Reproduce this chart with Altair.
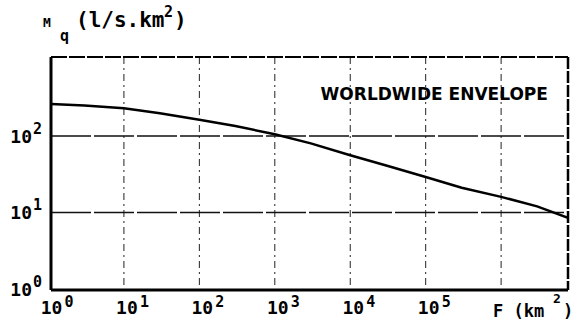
import altair as alt
import pandas as pd

# Envelope curve: catchment area F (km2) vs specific discharge Mq (l/s.km2)
area_km2 = [1, 3, 10, 30, 100, 300, 1000, 3000, 1e4, 3e4, 1e5, 3e5, 1e6, 3e6, 7.7e6]
mq = [263, 249, 230, 198, 163, 135, 105, 80, 56, 41, 29, 21, 16, 12, 8.5]

# Ticks, grid lines and their labels
x_tick_vals = [1, 10, 100, 1000, 1e4, 1e5]
x_tick_exps = ["0", "1", "2", "3", "4", "5"]
x_grid_vals = [10, 100, 1000, 1e4, 1e5, 1e6]
y_tick_vals = [1, 10, 100]
y_tick_exps = ["0", "1", "2"]
y_grid_vals = [10, 100]

annotation = "WORLDWIDE ENVELOPE"

W, H = 517, 233
FONT = "DejaVu Sans Mono"

xs = alt.Scale(type="log", domain=[1.08, 7.7e6], nice=False)
ys = alt.Scale(type="log", domain=[0.97, 1075], nice=False)

curve_df = pd.DataFrame({"F": area_km2, "Mq": mq})
xt_df = pd.DataFrame({"F": x_tick_vals, "exp": x_tick_exps, "base": ["10"] * len(x_tick_vals)})
yt_df = pd.DataFrame({"Mq": y_tick_vals, "exp": y_tick_exps, "base": ["10"] * len(y_tick_vals)})
xg_df = pd.DataFrame({"F": x_grid_vals})
yg_df = pd.DataFrame({"Mq": y_grid_vals})
one = pd.DataFrame({"a": [0]})

x_enc = lambda: alt.X("F:Q", scale=xs, axis=None)
y_enc = lambda: alt.Y("Mq:Q", scale=ys, axis=None)

vgrid = alt.Chart(xg_df).mark_rule(color="#222", strokeWidth=1, strokeDash=[7, 4, 2, 4]).encode(
    x=x_enc(), y=alt.value(0), y2=alt.value(H))
hgrid = alt.Chart(yg_df).mark_rule(color="#111", strokeWidth=1.5, strokeDash=[40, 3]).encode(
    y=y_enc(), x=alt.value(0), x2=alt.value(W))

left = alt.Chart(one).mark_rule(color="black", strokeWidth=3).encode(
    x=alt.value(0), y=alt.value(0), y2=alt.value(H))
bottom = alt.Chart(one).mark_rule(color="black", strokeWidth=3).encode(
    y=alt.value(H), x=alt.value(0), x2=alt.value(W))
top = alt.Chart(one).mark_rule(color="black", strokeWidth=2, strokeDash=[16, 2]).encode(
    y=alt.value(0), x=alt.value(0), x2=alt.value(W))
right = alt.Chart(one).mark_rule(color="black", strokeWidth=2.5, strokeDash=[12, 2]).encode(
    x=alt.value(W), y=alt.value(0), y2=alt.value(H))

curve = alt.Chart(curve_df).mark_line(color="black", strokeWidth=2.5, interpolate="linear", clip=True).encode(
    x=x_enc(), y=y_enc())

# x tick labels: "10" with raised exponent
xbase = alt.Chart(xt_df).mark_text(font=FONT, fontWeight="bold", fontSize=18, align="center",
                                   baseline="alphabetic", dx=3, color="black").encode(
    x=x_enc(), y=alt.value(H + 24), text="base:N")
xexp = alt.Chart(xt_df).mark_text(font=FONT, fontWeight="bold", fontSize=15, align="left",
                                  baseline="alphabetic", dx=16, color="black").encode(
    x=x_enc(), y=alt.value(H + 17), text="exp:N")

# y tick labels
ybase = alt.Chart(yt_df).mark_text(font=FONT, fontWeight="bold", fontSize=18, align="right",
                                   baseline="alphabetic", dx=-19, dy=7, color="black").encode(
    y=y_enc(), x=alt.value(0), text="base:N")
yexp = alt.Chart(yt_df).mark_text(font=FONT, fontWeight="bold", fontSize=15, align="left",
                                  baseline="alphabetic", dx=-18, dy=-2, color="black").encode(
    y=y_enc(), x=alt.value(0), text="exp:N")

def label(text, x, y, size, align="left"):
    return alt.Chart(one).mark_text(font=FONT, fontWeight="bold", fontSize=size, align=align,
                                    baseline="alphabetic", color="black", text=text).encode(
        x=alt.value(x), y=alt.value(y))

# y-axis title: Mq (l/s.km2)
ytitle = (label("M", -8, -30, 13) + label("q", 9, -16, 15) + label("(l/s.km", 25, -30, 21)
          + label("2", 113, -40, 15) + label(")", 123, -30, 21))
# x-axis title: F (km2)
xtitle = label("F  (km", 442, 260, 17) + label("2", 502, 246, 13) + label(")", 512, 260, 17)

note = alt.Chart(pd.DataFrame({"F": [1.3e5], "Mq": [295], "t": [annotation]})).mark_text(
    font="DejaVu Sans", fontWeight="bold", fontSize=17, align="center", baseline="alphabetic",
    color="black").encode(x=x_enc(), y=y_enc(), text="t:N")

chart = alt.layer(
    vgrid, hgrid, top, right, left, bottom, curve,
    xbase, xexp, ybase, yexp, ytitle, xtitle, note,
).properties(
    width=W, height=H,
    padding={"left": 51, "top": 57, "right": 7, "bottom": 35},
    autosize=alt.AutoSizeParams(type="none"),
    background="white",
).configure_view(stroke=None)

chart.save("out.html", embed_options={"renderer": "svg", "actions": False})
